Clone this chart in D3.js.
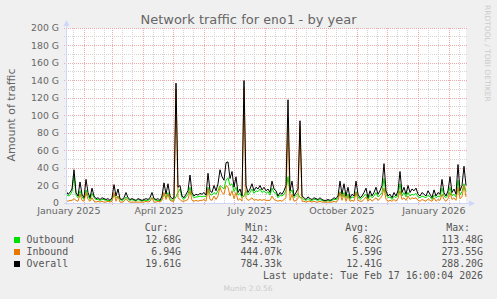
<!DOCTYPE html>
<html><head><meta charset="utf-8">
<script src="https://cdn.jsdelivr.net/npm/d3@7"></script>
<style>
html,body{margin:0;padding:0;background:#f0f0f0;}
svg{display:block;}
</style></head><body>
<svg id="c" width="497" height="299"></svg>
<script>
// ---------- data ----------
const titleParts = ["Network traffic for ", "eno1", " - by year"];
const yAxisTitle = "Amount of traffic";
const yTickValues = [0, 20, 40, 60, 80, 100, 120, 140, 160, 180, 200];
const yTickLabels = ["0", "20 G", "40 G", "60 G", "80 G", "100 G", "120 G", "140 G", "160 G", "180 G", "200 G"];
const xLabelMonths = ["2025-01-01", "2025-04-01", "2025-07-01", "2025-10-01", "2026-01-01"];
const xLabels = ["January 2025", "April 2025", "July 2025", "October 2025", "January 2026"];
const seriesNames = ["Outbound", "Inbound", "Overall"];
const seriesColors = ["#00e000", "#e87800", "#000000"];

// daily traffic (G), one value every 2 days from 2025-01-13 to 2026-02-17
const outbound = [
  11,8,9,13,33,9,6,14,7,4,15,8,4,11,6,
  4,4,3,4,4,3,3,2,4,9,6,8,4,3,4,7,4,3,4,3,
  2,4,3,2,3,3,3,4,6,4,3,3,2,5,11,6,12,5,3,4,
  7,12,16,6,4,7,10,18,9,6,7,7,8,7,8,7,18,10,9,12,
  10,14,20,18,16,26,29,20,22,13,18,9,11,6,8,14,9,12,16,11,
  14,13,16,12,14,11,13,9,17,12,11,6,9,8,10,14,30,11,15,6,
  9,11,6,6,4,3,5,3,3,4,4,3,4,3,2,2,3,2,3,4,
  4,5,13,7,12,6,10,4,7,6,13,7,4,6,8,10,4,9,6,8,
  12,7,9,12,28,10,6,7,4,8,6,9,22,8,12,7,12,8,10,9,
  11,7,6,8,7,6,9,7,4,9,6,8,7,17,8,6,9,18,8,10,
  7,26,9,13,22,13
];
const inbound = [
  3,2,3,3,5,3,2,10,3,2,12,4,2,6,2,
  1,2,1,2,1,1,2,1,2,12,2,8,1,1,2,5,2,1,1,1,
  1,1,1,1,1,2,1,2,6,1,1,2,1,3,12,4,10,3,2,2,
  130,6,4,2,2,3,4,14,3,2,3,2,3,3,4,2,16,4,3,8,
  4,8,18,12,10,20,18,8,14,5,12,3,5,2,132,6,3,4,6,3,
  4,3,4,3,4,3,3,3,8,4,3,2,3,2,4,6,88,3,10,2,
  3,5,88,2,2,1,2,2,1,2,1,1,2,1,1,1,1,1,1,2,
  1,3,12,3,10,2,8,2,3,2,12,3,2,2,4,7,2,5,2,4,
  6,3,5,8,17,4,2,3,2,4,2,5,14,4,6,3,8,4,6,5,
  6,3,2,4,3,2,5,3,2,6,2,4,3,10,4,2,5,12,4,6,
  3,18,5,7,20,7
];
const overall = [
  14,10,12,16,38,12,8,24,10,6,27,12,6,17,8,
  5,6,4,6,5,4,5,3,6,21,8,16,5,4,6,12,6,4,5,4,
  3,5,4,3,4,5,4,6,12,5,4,5,3,8,23,10,22,8,5,6,
  137,18,20,8,6,10,14,32,12,8,10,9,11,10,12,9,34,14,12,20,
  14,22,38,30,26,46,47,28,36,18,30,12,16,8,140,20,12,16,22,14,
  18,16,20,15,18,14,16,12,25,16,14,8,12,10,14,20,118,14,25,8,
  12,16,94,8,6,4,7,5,4,6,5,4,6,4,3,3,4,3,4,6,
  5,8,25,10,22,8,18,6,10,8,25,10,6,8,12,17,6,14,8,12,
  18,10,14,20,45,14,8,10,6,12,8,14,36,12,18,10,20,12,16,14,
  17,10,8,12,10,8,14,10,6,15,8,12,10,27,12,8,14,30,12,16,
  10,44,14,20,42,20
];
const legendHeaders = ["Cur:", "Min:", "Avg:", "Max:"];
const legendCur = ["12.68G", "6.94G", "19.61G"];
const legendMin = ["342.43k", "444.07k", "784.33k"];
const legendAvg = ["6.82G", "5.59G", "12.41G"];
const legendMax = ["113.48G", "273.55G", "288.20G"];
const lastUpdate = "Last update: Tue Feb 17 16:00:04 2026";
const watermark = "RRDTOOL / TOBI OETIKER";
const footer = "Munin 2.0.56";

// ---------- layout ----------
const X0 = 66, X1 = 466, Y0 = 203, Y1 = 28;
const tStart = Date.UTC(2025, 0, 13, 16), tEnd = Date.UTC(2026, 1, 17, 16);
const DAY = 864e5;
const sans = "DejaVu Sans", mono = "DejaVu Sans Mono";
const fontCol = "#666", legCol = "#555";

const svg = d3.select("#c");
const x = d3.scaleUtc().domain([new Date(tStart), new Date(tEnd)]).range([X0, X1]);
const y = d3.scaleLinear().domain([0, 200]).range([Y0, Y1]);
const dates = overall.map((_, i) => new Date(tStart + i * 2 * DAY));

// canvas
svg.append("rect").attr("x", X0).attr("y", Y1).attr("width", X1 - X0).attr("height", Y0 - Y1).attr("fill", "#fff");

// grid
const px = v => Math.round(v - 0.5) + 0.5;
const gGrid = svg.append("g").attr("shape-rendering", "crispEdges").attr("stroke-dasharray", "1,1").attr("stroke-width", 1);
const minorGridCol = "#d4d4d4", majorGridCol = "#eeaaaa";
const minorX = d3.utcDay.range(x.domain()[0], x.domain()[1]).filter(d => [1, 11, 21].includes(d.getUTCDate()));
const majorX = d3.utcMonth.range(x.domain()[0], x.domain()[1]);
gGrid.selectAll(".vmin").data(minorX).enter().append("line")
  .attr("x1", d => px(x(d))).attr("x2", d => px(x(d))).attr("y1", Y1).attr("y2", Y0)
  .attr("stroke", minorGridCol);
const minorY = d3.range(10, 200, 20);
gGrid.selectAll(".hmin").data(minorY).enter().append("line")
  .attr("x1", X0 - 2).attr("x2", X1 + 2).attr("y1", d => px(y(d))).attr("y2", d => px(y(d)))
  .attr("stroke", minorGridCol);
gGrid.selectAll(".vmaj").data(majorX).enter().append("line")
  .attr("x1", d => px(x(d))).attr("x2", d => px(x(d))).attr("y1", Y1).attr("y2", Y0 + 2)
  .attr("stroke", majorGridCol);
gGrid.selectAll(".hmaj").data(yTickValues.filter(v => v > 0)).enter().append("line")
  .attr("x1", X0 - 2).attr("x2", X1 + 2).attr("y1", d => px(y(d))).attr("y2", d => px(y(d)))
  .attr("stroke", majorGridCol);

// series
const line = d3.line().x((d, i) => x(dates[i])).y(d => y(d));
[outbound, inbound, overall].forEach((s, k) => {
  svg.append("path").datum(s).attr("d", line).attr("fill", "none")
    .attr("stroke", seriesColors[k]).attr("stroke-width", 1).attr("stroke-linejoin", "round");
});

// axes lines + arrows
const axisCol = "#cfd6f8";
svg.append("line").attr("x1", X0 + 0.5).attr("x2", X0 + 0.5).attr("y1", Y0 + 2).attr("y2", Y1 - 4).attr("stroke", axisCol);
svg.append("line").attr("x1", X0 - 2).attr("x2", X1 + 4).attr("y1", Y0 + 0.5).attr("y2", Y0 + 0.5).attr("stroke", axisCol);
svg.append("path").attr("d", `M${X0 - 2.5},${Y1 - 2}L${X0 + 3.5},${Y1 - 2}L${X0 + 0.5},${Y1 - 8}Z`).attr("fill", axisCol);
svg.append("path").attr("d", `M${X1 + 3},${Y0 - 2.5}L${X1 + 3},${Y0 + 3.5}L${X1 + 9},${Y0 + 0.5}Z`).attr("fill", axisCol);

// y tick labels
const yAxis = d3.axisLeft(y).tickValues(yTickValues).tickFormat((d, i) => yTickLabels[i]).tickSize(0).tickPadding(7);
svg.append("g").attr("transform", `translate(${X0},0)`).call(yAxis)
  .attr("font-family", sans).attr("font-size", 9.3).attr("color", fontCol)
  .call(g => g.select(".domain").remove());

// x labels (centered mid-month like rrdtool)
const labelDates = xLabelMonths.map(s => new Date(Date.parse(s + "T00:00:00Z") + 15 * DAY));
const xAxis = d3.axisBottom(x).tickValues(labelDates).tickFormat((d, i) => xLabels[i]).tickSize(0).tickPadding(4.3);
svg.append("g").attr("transform", `translate(0,${Y0})`).call(xAxis)
  .attr("font-family", sans).attr("font-size", 9.5).attr("color", fontCol)
  .call(g => g.select(".domain").remove());

// title
const t = svg.append("text").attr("x", 248.5).attr("y", 24).attr("text-anchor", "middle")
  .attr("font-family", sans).attr("font-size", 13).attr("fill", fontCol);
titleParts.forEach((p, i) => t.append("tspan").attr("font-family", i === 1 ? mono : sans).text(p));

// y axis title
svg.append("text").attr("transform", "translate(14.5,115) rotate(-90)").attr("text-anchor", "middle")
  .attr("font-family", sans).attr("font-size", 11).attr("fill", fontCol).text(yAxisTitle);

// watermark
svg.append("text").attr("transform", "translate(485,5) rotate(90)").attr("font-family", sans)
  .attr("font-size", 7.5).attr("fill", "#cccccc").text(watermark);

// legend
const lg = svg.append("g").attr("font-family", mono).attr("font-size", 9.9).attr("fill", legCol);
const headerEnds = [168.5, 269, 369, 470];
legendHeaders.forEach((h, i) => lg.append("text").attr("x", headerEnds[i]).attr("y", 231).attr("text-anchor", "end").text(h));
const colEnds = [181, 282, 382, 483];
const cols = [legendCur, legendMin, legendAvg, legendMax];
seriesNames.forEach((n, r) => {
  const by = 243 + r * 12;
  lg.append("rect").attr("x", 14).attr("y", by - 6).attr("width", 6).attr("height", 6).attr("fill", seriesColors[r]);
  lg.append("text").attr("x", 26.5).attr("y", by).text(n);
  cols.forEach((c, j) => lg.append("text").attr("x", colEnds[j]).attr("y", by).attr("text-anchor", "end").text(c[r]));
});
lg.append("text").attr("x", 483).attr("y", 279).attr("text-anchor", "end").text(lastUpdate);

svg.append("text").attr("x", 248).attr("y", 291).attr("text-anchor", "middle").attr("font-family", sans)
  .attr("font-size", 7.5).attr("fill", "#cccccc").text(footer);
</script>
</body></html>
